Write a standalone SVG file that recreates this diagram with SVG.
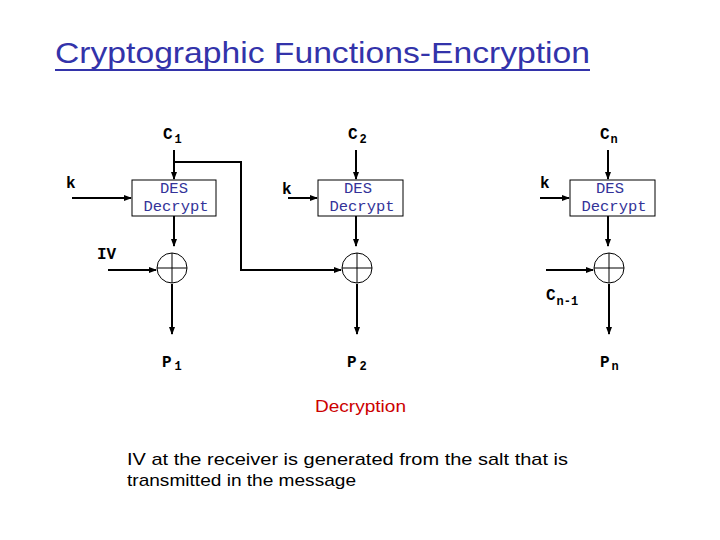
<svg xmlns="http://www.w3.org/2000/svg" width="720" height="540" viewBox="0 0 720 540">
<style>
.lbl{font-family:"Liberation Mono",monospace;font-weight:bold;font-size:16px;fill:#000}
.sub{font-size:12px}
.box{fill:#fff;stroke:#000;stroke-width:1}
.bt{font-family:"Liberation Mono",monospace;font-size:15.5px;fill:#333399;text-anchor:middle}
.xor{fill:#fff;stroke:#000;stroke-width:1}
.ln{stroke:#000;stroke-width:2;fill:none}
.txt{font-family:"Comic Sans MS","Liberation Sans",sans-serif}
</style>
<defs>
<marker id="ah" markerWidth="8" markerHeight="8" refX="7" refY="4" orient="auto" markerUnits="userSpaceOnUse">
<path d="M0,1 L8,4 L0,7 Z" fill="#000"/>
</marker>
</defs>
<rect width="720" height="540" fill="#fff"/>
<g id="title">
<text class="txt" x="55" y="63" font-size="30" fill="#3333aa" textLength="535" lengthAdjust="spacingAndGlyphs">Cryptographic Functions-Encryption</text>
<line x1="55" y1="70" x2="590" y2="70" stroke="#3333aa" stroke-width="2"/>
</g>
<g id="connectors">
<line class="ln" x1="174" y1="150" x2="174" y2="179" marker-end="url(#ah)"/>
<line class="ln" x1="356" y1="150" x2="356" y2="179" marker-end="url(#ah)"/>
<line class="ln" x1="608" y1="150" x2="608" y2="179" marker-end="url(#ah)"/>
<line class="ln" x1="72" y1="198" x2="131" y2="198" marker-end="url(#ah)"/>
<line class="ln" x1="288" y1="198" x2="317" y2="198" marker-end="url(#ah)"/>
<line class="ln" x1="540" y1="198" x2="569" y2="198" marker-end="url(#ah)"/>
<line class="ln" x1="174" y1="216" x2="174" y2="246" marker-end="url(#ah)"/>
<line class="ln" x1="356" y1="216" x2="356" y2="246" marker-end="url(#ah)"/>
<line class="ln" x1="608" y1="216" x2="608" y2="246" marker-end="url(#ah)"/>
<polyline class="ln" points="174,162 241,162 241,270 341,270" marker-end="url(#ah)" stroke-width="1.5"/>
<line class="ln" x1="108" y1="270" x2="156" y2="270" marker-end="url(#ah)"/>
<line class="ln" x1="546" y1="270" x2="593" y2="270" marker-end="url(#ah)"/>
<line class="ln" x1="172" y1="284" x2="172" y2="334" marker-end="url(#ah)"/>
<line class="ln" x1="357" y1="284" x2="357" y2="334" marker-end="url(#ah)"/>
<line class="ln" x1="609" y1="284" x2="609" y2="334" marker-end="url(#ah)"/>
</g>
<g id="box1">
<rect class="box" x="132" y="180" width="84" height="36"/>
<text class="bt" x="174" y="193">DES</text>
<text class="bt" x="176" y="211">Decrypt</text>
</g>
<g id="box2">
<rect class="box" x="318" y="180" width="85" height="36"/>
<text class="bt" x="358" y="193">DES</text>
<text class="bt" x="362" y="211">Decrypt</text>
</g>
<g id="box3">
<rect class="box" x="570" y="180" width="85" height="36"/>
<text class="bt" x="610" y="193">DES</text>
<text class="bt" x="614" y="211">Decrypt</text>
</g>
<g id="xor1">
<circle class="xor" cx="172" cy="268" r="15"/>
<path d="M157,268 H187 M172,253 V283" stroke="#000" stroke-width="1"/>
</g>
<g id="xor2">
<circle class="xor" cx="357" cy="268" r="15"/>
<path d="M342,268 H372 M357,253 V283" stroke="#000" stroke-width="1"/>
</g>
<g id="xor3">
<circle class="xor" cx="609" cy="268" r="15"/>
<path d="M594,268 H624 M609,253 V283" stroke="#000" stroke-width="1"/>
</g>
<g id="labels">
<text class="lbl" x="163" y="139">C<tspan class="sub" dx="2" dy="4">1</tspan></text>
<text class="lbl" x="348" y="139">C<tspan class="sub" dx="2" dy="4">2</tspan></text>
<text class="lbl" x="600" y="139">C<tspan class="sub" dx="1" dy="4">n</tspan></text>
<text class="lbl" x="66" y="188">k</text>
<text class="lbl" x="282" y="194">k</text>
<text class="lbl" x="540" y="188">k</text>
<text class="lbl" x="97" y="259">IV</text>
<text class="lbl" x="546" y="300">C<tspan class="sub" dx="1" dy="5">n-1</tspan></text>
<text class="lbl" x="162" y="367">P<tspan class="sub" dx="3" dy="3">1</tspan></text>
<text class="lbl" x="347" y="367">P<tspan class="sub" dx="3" dy="3">2</tspan></text>
<text class="lbl" x="600" y="367">P<tspan class="sub" dx="2" dy="3">n</tspan></text>
</g>
<g id="notes">
<text class="txt" x="315" y="412" font-size="17" fill="#cc0000" textLength="91" lengthAdjust="spacingAndGlyphs">Decryption</text>
<text class="txt" x="127" y="465" font-size="17" fill="#000" textLength="441" lengthAdjust="spacingAndGlyphs">IV at the receiver is generated from the salt that is</text>
<text class="txt" x="127" y="486" font-size="17" fill="#000" textLength="229" lengthAdjust="spacingAndGlyphs">transmitted in the message</text>
</g>
</svg>
